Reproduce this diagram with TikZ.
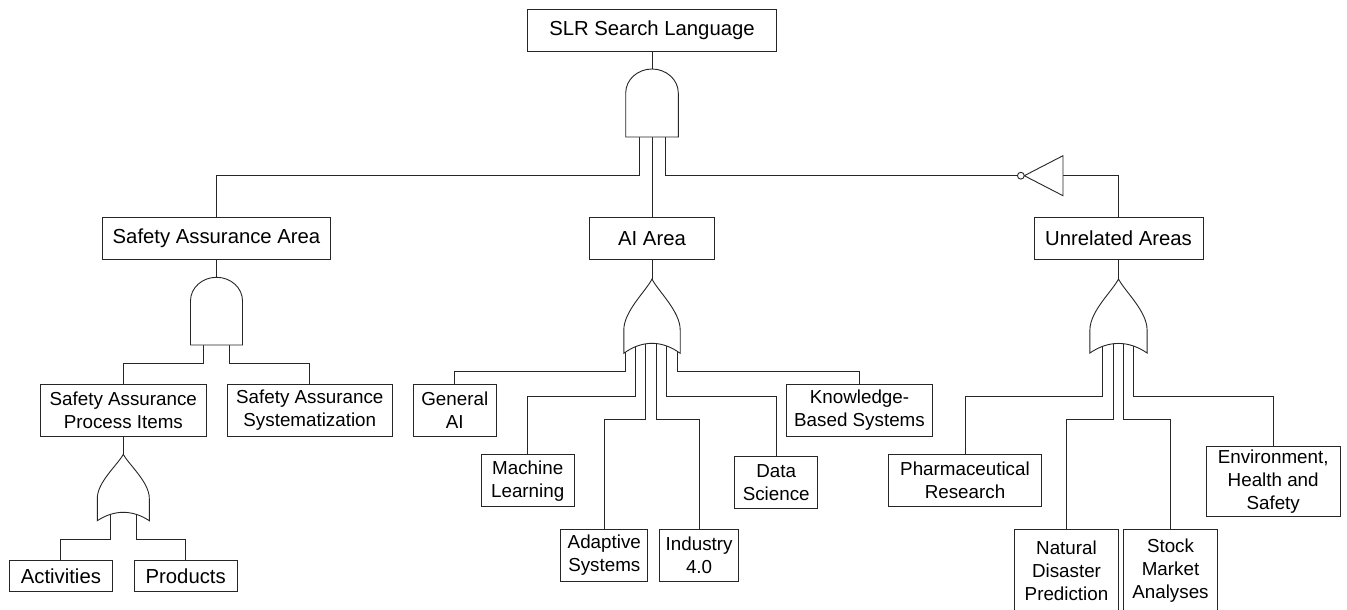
\documentclass[tikz,border=0pt]{standalone}
\usepackage{fontspec}
\setmainfont{Liberation Sans}
\newcommand{\orgt}[6]{%
 \draw[gate] (#1,#2) .. controls ({#1+0.21*#3},{#2+0.235*#4}) and ({#1+#3},{#2+0.63*#4}) .. ({#1+#3},{#2+#4})
 -- ({#1+#3},{#2+#5}) .. controls ({#1+0.35*#3},{#2+#5-1.33*#6}) and ({#1-0.35*#3},{#2+#5-1.33*#6}) .. ({#1-#3},{#2+#5})
 -- ({#1-#3},{#2+#4}) .. controls ({#1-#3},{#2+0.63*#4}) and ({#1-0.21*#3},{#2+0.235*#4}) .. cycle;}
\newcommand{\andgt}[5]{%
 \draw[gate] ({#1-#3},{#2+#5}) -- ({#1-#3},{#2+#4}) arc[start angle=180,end angle=0,x radius=#3pt,y radius=#4pt] -- ({#1+#3},{#2+#5}) -- cycle;}
\tikzset{
 box/.style={draw=black!85, line width=0.9pt, fill=white, inner sep=0pt, align=center,
   font=\fontsize{18.8}{23}\selectfont, text=black},
 big/.style={font=\fontsize{20.3}{23}\selectfont},
 wire/.style={draw=black!85, line width=0.9pt},
 gate/.style={draw=black!85, line width=0.9pt, fill=white, line join=miter},
}
\begin{document}
\begin{tikzpicture}[x=1pt,y=-1pt]
\fill[white] (0,0) rectangle (1347,610);
\useasboundingbox (0,0) rectangle (1347,610);

% boxes
\node[box,big,minimum width=249pt,minimum height=42pt] (top) at (652,30) {SLR Search Language};
\node[box,big,minimum width=228.4pt,minimum height=42pt] (saa) at (216.5,238.3) {Safety Assurance Area};
\node[box,big,minimum width=124.6pt,minimum height=42pt] (ai) at (652,238.3) {AI Area};
\node[box,big,minimum width=169pt,minimum height=42pt] (unrel) at (1118.5,238.3) {Unrelated Areas};
\node[box,minimum width=166pt,minimum height=52pt] (sapi) at (123.3,410) {Safety Assurance\\Process Items};
\node[box,minimum width=165.7pt,minimum height=52pt] (sas) at (309.8,410) {Safety Assurance\\Systematization};
\node[box,big,minimum width=103.7pt,minimum height=31pt] (act) at (60.9,576.2) {Activities};
\node[box,big,minimum width=103.3pt,minimum height=31pt] (prod) at (185.7,576.2) {Products};
\node[box,minimum width=83.2pt,minimum height=52pt] (genai) at (454.8,410) {General\\AI};
\node[box,minimum width=93.3pt,minimum height=52pt] (ml) at (527.7,480.7) {Machine\\Learning};
\node[box,minimum width=87.2pt,minimum height=51.7pt] (adapt) at (604.3,555.2) {Adaptive\\Systems};
\node[box,minimum width=79.6pt,minimum height=51.7pt] (ind) at (699.1,555.2) {Industry\\4.0};
\node[box,minimum width=83.3pt,minimum height=51.6pt] (ds) at (776.2,482.5) {Data\\Science};
\node[box,minimum width=145.3pt,minimum height=52pt] (kbs) at (859.5,410) {Knowledge-\\Based Systems};
\node[box,minimum width=153.4pt,minimum height=52pt] (pharma) at (965,480.7) {Pharmaceutical\\Research};
\node[box,minimum width=103.6pt,minimum height=82pt] (natural) at (1066.5,570.3) {Natural\\Disaster\\Prediction};
\node[box,minimum width=93.6pt,minimum height=82pt] (stock) at (1170.5,570.3) {Stock\\Market\\Analyses};
\node[box,minimum width=134.3pt,minimum height=70.7pt] (env) at (1273.2,481.3) {Environment,\\Health and\\Safety};

% gate anchor coordinates
\coordinate (andT) at (652,69);
\coordinate (andT1) at (639.3,130);
\coordinate (andT2) at (652,130);
\coordinate (andT3) at (665.3,130);
\coordinate (notin) at (1017.4,175.7);
\coordinate (notout) at (1063,175.7);
\coordinate (andL) at (216.5,277.3);
\coordinate (andL1) at (203.5,340);
\coordinate (andL2) at (229.5,340);
\coordinate (orL) at (123.3,454.3);
\coordinate (orL1) at (110.7,510);
\coordinate (orL2) at (136,510);
\coordinate (orA) at (652,279);
\coordinate (orA1) at (625,340);
\coordinate (orA2) at (635.4,340);
\coordinate (orA3) at (645.7,340);
\coordinate (orA4) at (656.1,340);
\coordinate (orA5) at (666.4,340);
\coordinate (orA6) at (677.1,340);
\coordinate (orR) at (1118.5,279);
\coordinate (orR1) at (1102.5,340);
\coordinate (orR2) at (1113,340);
\coordinate (orR3) at (1123.5,340);
\coordinate (orR4) at (1133.5,340);

% wires
\draw[wire] (top.south) -- (andT);
\draw[wire] (andT1) |- (saa.north |- 0,175.7) -- (saa.north);
\draw[wire] (andT2) -- (ai.north);
\draw[wire] (andT3) |- (notin);
\draw[wire] (notout) -| (unrel.north);

\draw[wire] (saa.south) -- (andL);
\draw[wire] (andL1) |- (sapi.north |- 0,363.3) -- (sapi.north);
\draw[wire] (andL2) |- (sas.north |- 0,363.3) -- (sas.north);

\draw[wire] (sapi.south) -- (orL);
\draw[wire] (orL1) |- (act.north |- 0,539.3) -- (act.north);
\draw[wire] (orL2) |- (prod.north |- 0,539.3) -- (prod.north);

\draw[wire] (ai.south) -- (orA);
\draw[wire] (orA1) |- (genai.north |- 0,371) -- (genai.north);
\draw[wire] (orA2) |- (ml.north |- 0,396) -- (ml.north);
\draw[wire] (orA3) |- (adapt.north |- 0,419.3) -- (adapt.north);
\draw[wire] (orA4) |- (ind.north |- 0,419.3) -- (ind.north);
\draw[wire] (orA5) |- (ds.north |- 0,396) -- (ds.north);
\draw[wire] (orA6) |- (kbs.north |- 0,371) -- (kbs.north);

\draw[wire] (unrel.south) -- (orR);
\draw[wire] (orR1) |- (pharma.north |- 0,396) -- (pharma.north);
\draw[wire] (orR2) |- (natural.north |- 0,419.3) -- (natural.north);
\draw[wire] (orR3) |- (stock.north |- 0,419.3) -- (stock.north);
\draw[wire] (orR4) |- (env.north |- 0,396) -- (env.north);

% gates
\andgt{652}{69}{26.3}{24}{68}
\andgt{216.5}{277.3}{26}{23.5}{67.7}
\orgt{123.3}{454.3}{26}{44}{66.4}{8.4}
\orgt{652}{279}{28.2}{51}{74.3}{10}
\orgt{1118.5}{279}{28.6}{51}{74}{9.6}
% NOT gate
\draw[gate] (1024.3,175.7) -- (1063,155.7) -- (1063,195.7) -- cycle;
\draw[gate] (1020.85,175.7) circle[radius=3.4pt];
\end{tikzpicture}
\end{document}
